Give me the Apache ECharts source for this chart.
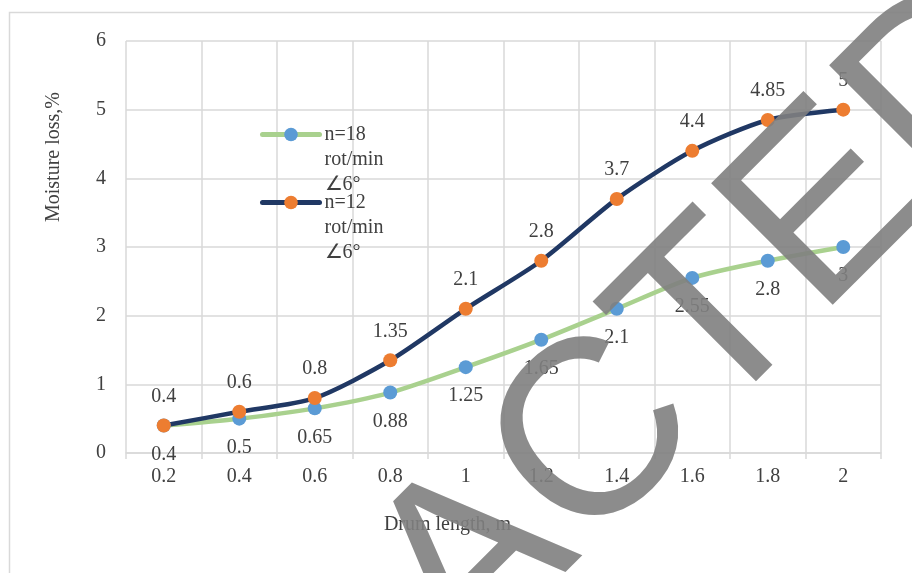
<!DOCTYPE html>
<html>
<head>
<meta charset="utf-8">
<script src="https://cdn.jsdelivr.net/npm/echarts@6/dist/echarts.min.js"></script>
<style>
html,body{margin:0;padding:0;background:#fff;}
#chart{width:912px;height:573px;}
</style>
</head>
<body>
<div id="chart"></div>
<script>
const categories = ['0.2','0.4','0.6','0.8','1','1.2','1.4','1.6','1.8','2'];
const seriesNames = ['n=18\nrot/min\n∠6°', 'n=12\nrot/min\n∠6°'];
const n18 = [0.4, 0.5, 0.65, 0.88, 1.25, 1.65, 2.1, 2.55, 2.8, 3];
const n12 = [0.4, 0.6, 0.8, 1.35, 2.1, 2.8, 3.7, 4.4, 4.85, 5];
const yMin = 0, yMax = 6, yStep = 1;
const xTitle = 'Drum length, m';
const yTitle = 'Moisture loss,%';
const watermark = 'REDACTED';

const FONT = '"Liberation Serif", "Times New Roman", serif';
const TXT = '#404040';
const GRID = '#d9d9d9';

const chart = echarts.init(document.getElementById('chart'), null, {renderer:'canvas'});
chart.setOption({
  animation: false,
  backgroundColor: '#fff',
  grid: {left: 126, right: 31, top: 41, bottom: 120, containLabel: false},
  legend: {
    orient: 'vertical', left: 260, top: 72, padding: 0,
    itemWidth: 57, itemHeight: 17, itemGap: -57,
    data: seriesNames,
    lineStyle: {width: 5, cap: 'round'},
    formatter: function (name) { return '\n\n' + name; },
    textStyle: {fontFamily: FONT, fontSize: 20, color: TXT, lineHeight: 25}
  },
  xAxis: {
    type: 'category', data: categories, boundaryGap: true,
    name: xTitle, nameLocation: 'middle', nameGap: 62,
    nameTextStyle: {fontFamily: FONT, fontSize: 20, color: TXT, padding: [0, 112, 0, 0]},
    axisLine: {show: true, lineStyle: {color: GRID, width: 1.5}},
    axisTick: {show: true, length: 6, lineStyle: {color: GRID, width: 1.5}},
    axisLabel: {fontFamily: FONT, fontSize: 20, color: TXT, margin: 14},
    splitLine: {show: true, lineStyle: {color: GRID, width: 1.5}}
  },
  yAxis: {
    type: 'value', min: yMin, max: yMax, interval: yStep,
    name: yTitle, nameLocation: 'middle', nameGap: 62, nameRotate: 90,
    nameTextStyle: {fontFamily: FONT, fontSize: 20, color: TXT, padding: [0,0,0,180]},
    axisLine: {show: false}, axisTick: {show: false},
    axisLabel: {fontFamily: FONT, fontSize: 20, color: TXT, margin: 20},
    splitLine: {show: true, lineStyle: {color: GRID, width: 1.5}}
  },
  series: [
    {
      name: seriesNames[0], type: 'line', data: n18, smooth: 0.25,
      symbol: 'circle', symbolSize: 14,
      lineStyle: {color: '#a9d18e', width: 4.5},
      itemStyle: {color: '#5b9bd5'},
      label: {show: true, position: 'bottom', distance: 12, fontFamily: FONT, fontSize: 20, color: TXT}
    },
    {
      name: seriesNames[1], type: 'line', data: n12, smooth: 0.25,
      symbol: 'circle', symbolSize: 14,
      lineStyle: {color: '#203864', width: 4.5},
      itemStyle: {color: '#ed7d31'},
      label: {show: true, position: 'top', distance: 12, fontFamily: FONT, fontSize: 20, color: TXT}
    }
  ],
  graphic: [
    {type: 'rect', left: 7, top: 10, z: -1, silent: true,
     shape: {width: 1000, height: 1000}, style: {fill: 'none', stroke: GRID, lineWidth: 1.5}},
    {type: 'text', x: 529, y: 511, rotation: Math.PI/4, z: 100, silent: true,
     style: {text: watermark, fontFamily: '"Liberation Sans", Arial, sans-serif', fontSize: 250,
             fill: 'rgba(128,128,128,0.9)', align: 'center', verticalAlign: 'middle'}}
  ]
});
</script>
</body>
</html>
